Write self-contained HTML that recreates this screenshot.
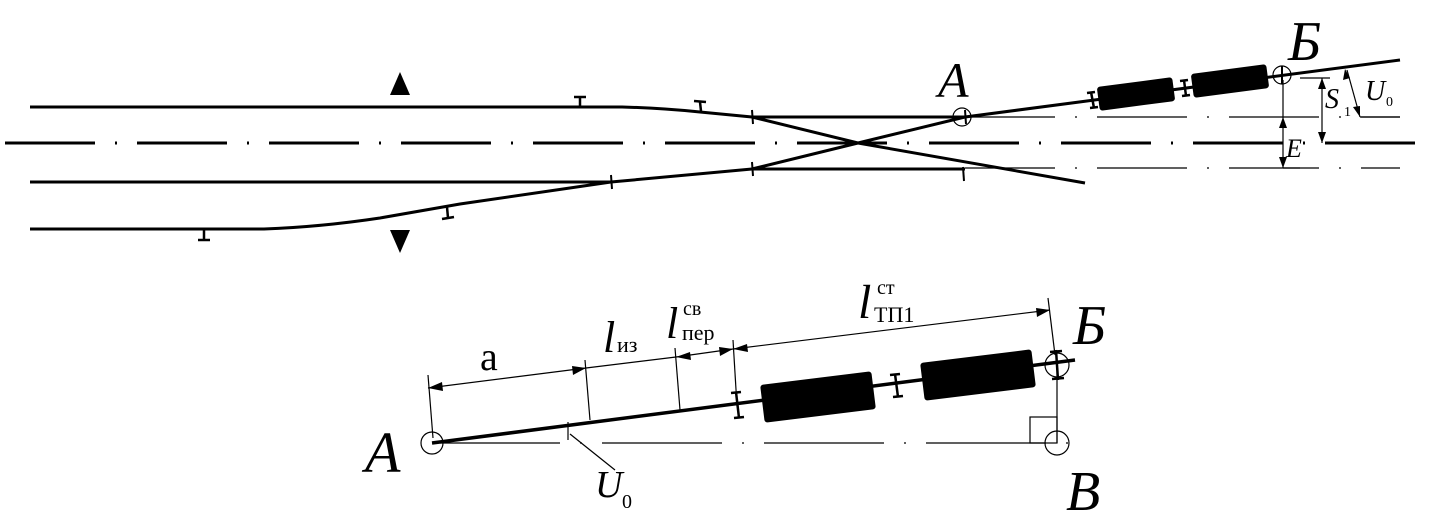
<!DOCTYPE html>
<html><head><meta charset="utf-8"><style>
html,body{margin:0;padding:0;background:#fff;}
svg{display:block}
text{font-family:"Liberation Serif",serif;fill:#000}
</style></head><body>
<svg width="1449" height="522" viewBox="0 0 1449 522" xmlns="http://www.w3.org/2000/svg">
<g stroke="#000" fill="none" stroke-linecap="butt">
<line x1="5" y1="143" x2="1420" y2="143" stroke-width="3" stroke-dasharray="90,20,2,20"/>
<line x1="965" y1="117" x2="1400" y2="117" stroke-width="1.2" stroke-dasharray="90,20,2,20"/>
<line x1="965" y1="168" x2="1400" y2="168" stroke-width="1.2" stroke-dasharray="90,20,2,20"/>
<path d="M30 107 L622 107 Q660 108 700 112 L752 117 L965 117" stroke-width="3"/>
<path d="M30 182 L611 182 L752 169 L965 169" stroke-width="3"/>
<path d="M30 229 L264 229 Q320 227 380 218 Q420 211 460 204 L611 182" stroke-width="3"/>
<polyline points="752,117 858,143 1085,183" stroke-width="3"/>
<polyline points="752,169 858,143 965,117" stroke-width="3"/>
<line x1="965" y1="117" x2="1400" y2="60" stroke-width="3"/>
<g stroke-width="2">
<line x1="752" y1="110" x2="753" y2="124"/><line x1="752" y1="162" x2="753" y2="176"/>
<line x1="611" y1="175" x2="612" y2="189"/><line x1="963" y1="167" x2="964" y2="181"/>
<line x1="965" y1="110" x2="966" y2="124"/>
</g>
<g stroke-width="2.5">
<line x1="580" y1="97" x2="580" y2="107"/><line x1="574" y1="97" x2="586" y2="97"/>
<line x1="700" y1="102" x2="701" y2="111"/><line x1="694" y1="101" x2="706" y2="102"/>
<line x1="204" y1="229" x2="204" y2="240"/><line x1="198" y1="240" x2="210" y2="240"/>
<line x1="447" y1="207" x2="448" y2="218"/><line x1="442" y1="219" x2="454" y2="217"/>
</g>
<circle cx="962" cy="117" r="9" stroke-width="1.2"/>
<circle cx="1282" cy="75" r="9" stroke-width="1.2"/>
<line x1="1282" y1="66" x2="1282" y2="84" stroke-width="2"/>
<g stroke-width="2.5">
<line x1="1091" y1="92" x2="1094" y2="108"/><line x1="1087" y1="93" x2="1095" y2="92"/><line x1="1090" y1="108" x2="1098" y2="107"/>
<line x1="1184" y1="80" x2="1186" y2="96"/><line x1="1180" y1="81" x2="1188" y2="80"/><line x1="1182" y1="96" x2="1190" y2="95"/>
</g>
<g stroke-width="1.2">
<line x1="1283" y1="80" x2="1283" y2="168"/>
<line x1="1283" y1="168" x2="1300" y2="168"/>
<line x1="1300" y1="78" x2="1330" y2="78"/>
<line x1="1322" y1="78" x2="1322" y2="143"/>
<line x1="1347" y1="70" x2="1360" y2="117"/>
<line x1="1360" y1="117" x2="1400" y2="117"/>
</g>
</g>
<g fill="#000">
<polygon points="1283,117 1279,128 1287,128"/><polygon points="1283,168 1279,157 1287,157"/>
<polygon points="1322,78 1318,89 1326,89"/><polygon points="1322,143 1318,132 1326,132"/>
<polygon points="1345,69 1343,80 1350,78"/><polygon points="1360,117 1353,107 1360,106"/>
<polygon points="400,72 390,95 410,95"/><polygon points="390,230 410,230 400,253"/>
<rect x="1098" y="82" width="76" height="24" rx="3" transform="rotate(-7.5 1136 94)"/>
<rect x="1192" y="69" width="76" height="24" rx="3" transform="rotate(-7.5 1230 81)"/>
</g>
<text x="938" y="97" font-size="50" font-style="italic">A</text>
<text x="1288" y="60" font-size="56" font-style="italic">Б</text>
<text x="1286" y="157" font-size="26" font-style="italic">E</text>
<text x="1325" y="108" font-size="28" font-style="italic">S</text><text x="1344" y="116" font-size="14">1</text>
<text x="1365" y="100" font-size="28" font-style="italic">U</text><text x="1386" y="106" font-size="14">0</text>

<g stroke="#000" fill="none">
<line x1="440" y1="443" x2="1070" y2="443" stroke-width="1.2" stroke-dasharray="120,20,2,20"/>
<line x1="432" y1="443" x2="1075" y2="360" stroke-width="3.5"/>
<circle cx="432" cy="443" r="11" stroke-width="1.2"/>
<circle cx="1057" cy="443" r="12" stroke-width="1.2"/>
<circle cx="1057" cy="365" r="12" stroke-width="1.2"/>
<line x1="1057" y1="365" x2="1057" y2="443" stroke-width="1.2"/>
<rect x="1030" y="417" width="27" height="26" stroke-width="1.2"/>
<g stroke-width="1.2">
<line x1="428" y1="375" x2="433" y2="438"/>
<line x1="585" y1="360" x2="590" y2="420"/>
<line x1="675" y1="348" x2="680" y2="410"/>
<line x1="733" y1="340" x2="737" y2="406"/>
<line x1="1048" y1="298" x2="1055" y2="355"/>
<line x1="428" y1="388" x2="586" y2="368"/>
<line x1="586" y1="368" x2="676" y2="357"/>
<line x1="676" y1="357" x2="733" y2="349"/>
<line x1="733" y1="349" x2="1050" y2="310"/>
<line x1="568" y1="422" x2="568" y2="440"/>
<line x1="570" y1="434" x2="615" y2="470"/>
</g>
<g stroke-width="2.5">
<line x1="736" y1="392" x2="739" y2="418"/><line x1="731" y1="393" x2="741" y2="392"/><line x1="734" y1="418" x2="744" y2="417"/>
<line x1="895" y1="374" x2="898" y2="397"/><line x1="890" y1="375" x2="900" y2="374"/><line x1="893" y1="397" x2="903" y2="396"/>
<line x1="1056" y1="350" x2="1058" y2="380"/><line x1="1050" y1="352" x2="1062" y2="351"/><line x1="1052" y1="379" x2="1064" y2="378"/>
</g>
</g>
<g fill="#000">
<polygon points="428,388 442,382 443,391"/><polygon points="586,368 572,366 573,375"/>
<polygon points="676,357 690,352 691,360"/><polygon points="733,349 719,347 720,356"/>
<polygon points="733,349 747,344 748,352"/><polygon points="1050,310 1036,308 1037,317"/>
<rect x="762" y="378" width="112" height="38" rx="3" transform="rotate(-7 818 397)"/>
<rect x="922" y="356" width="112" height="38" rx="3" transform="rotate(-7 978 375)"/>
</g>
<text x="365" y="472" font-size="58" font-style="italic">A</text>
<text x="1073" y="344" font-size="56" font-style="italic">Б</text>
<text x="1066" y="510" font-size="56" font-style="italic">B</text>
<text x="595" y="497" font-size="38" font-style="italic">U</text><text x="622" y="508" font-size="20">0</text>
<text x="480" y="370" font-size="40">a</text>
<text x="603" y="352" font-size="44" font-style="italic">l</text><text x="617" y="352" font-size="22">из</text>
<text x="666" y="338" font-size="44" font-style="italic">l</text><text x="683" y="315" font-size="20">св</text><text x="682" y="340" font-size="22">пер</text>
<text x="858" y="318" font-size="48" font-style="italic">l</text><text x="877" y="294" font-size="20">ст</text><text x="874" y="322" font-size="22">ТП1</text>
</svg>
</body></html>
